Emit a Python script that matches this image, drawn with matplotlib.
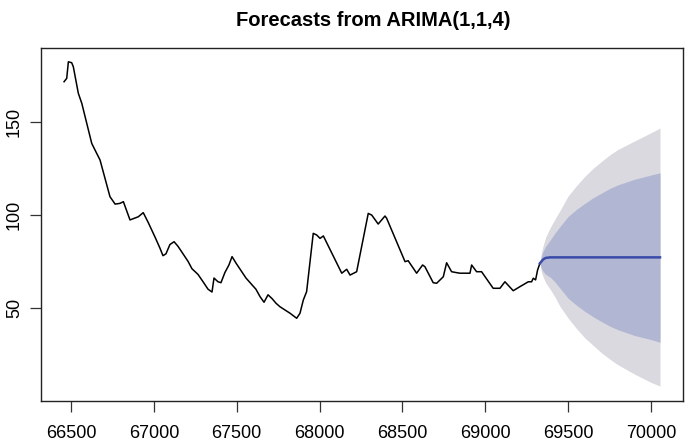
import numpy as np
import matplotlib
matplotlib.use("Agg")
import matplotlib.pyplot as plt

obs_x = [66458, 66474, 66484, 66504, 66514, 66544, 66565, 66625, 66645, 66675,
         66735, 66766, 66796, 66816, 66856, 66906, 66936, 66965, 67007, 67037,
         67055, 67073, 67097, 67122, 67146, 67176, 67206, 67230, 67266, 67297,
         67327, 67351, 67363, 67387, 67405, 67429, 67453, 67472, 67496, 67526,
         67556, 67586, 67616, 67641, 67665, 67689, 67713, 67737, 67761, 67822,
         67862, 67882, 67902, 67922, 67962, 67983, 68003, 68023, 68134, 68164,
         68184, 68224, 68294, 68315, 68354, 68395, 68405, 68516, 68535, 68586,
         68622, 68636, 68686, 68707, 68747, 68767, 68797, 68827, 68847, 68908,
         68918, 68948, 68978, 69048, 69089, 69119, 69169, 69210, 69260, 69280,
         69290, 69304, 69316, 69330]
obs_y = [171.4, 173.2, 182.1, 181.6, 179.4, 165.2, 159.8, 138.3, 134.7, 129.4,
         109.7, 105.7, 106.1, 107.0, 97.2, 98.9, 101.1, 96.0, 88.0, 82.0,
         78.0, 79.0, 84.0, 85.5, 83.0, 79.0, 75.0, 71.0, 68.0, 64.0,
         60.0, 58.5, 66.0, 64.0, 63.5, 69.0, 73.0, 77.5, 74.0, 70.0,
         66.0, 63.0, 60.0, 56.0, 53.0, 57.0, 55.0, 52.5, 50.6, 47.1,
         44.4, 47.1, 54.2, 58.7, 90.0, 89.1, 87.3, 88.6, 68.6, 70.7,
         67.6, 69.4, 100.7, 99.8, 95.0, 99.3, 98.1, 74.8, 75.3, 68.6,
         73.0, 72.1, 63.5, 63.2, 66.7, 74.2, 69.4, 68.9, 68.6, 68.6,
         73.0, 69.4, 69.4, 60.5, 60.5, 64.0, 59.2, 61.4, 64.0, 64.0,
         65.9, 65.0, 70.3, 73.9]

# forecast mean and 80% / 95% intervals
fc_x = [69330, 69340, 69350, 69365, 69392, 69420, 69450, 69500, 69550, 69600,
        69650, 69700, 69750, 69800, 69900, 70000, 70055]
fc_mean = [73.9, 75.0, 76.0, 76.8, 77.1, 77.1, 77.1, 77.1, 77.1, 77.1,
           77.1, 77.1, 77.1, 77.1, 77.1, 77.1, 77.1]
lo80 = [73.9, 71.0, 69.5, 68.0, 66.5, 64.0, 60.7, 55.2, 51.5, 48.2,
        45.3, 42.7, 40.3, 38.3, 35.2, 33.0, 31.5]
hi80 = [73.9, 78.0, 80.5, 83.0, 86.4, 90.0, 93.5, 99.0, 102.8, 106.0,
        109.0, 111.5, 114.0, 116.0, 119.0, 121.3, 122.5]
lo95 = [73.9, 69.0, 66.5, 63.5, 60.0, 56.0, 51.0, 44.5, 39.0, 34.0,
        30.0, 26.0, 22.6, 19.5, 14.5, 10.0, 8.0]
hi95 = [73.9, 80.0, 83.5, 88.0, 93.0, 97.5, 102.0, 110.0, 115.5, 120.5,
        124.8, 128.5, 132.0, 135.0, 139.5, 144.0, 146.5]

xticks = [66500, 67000, 67500, 68000, 68500, 69000, 69500, 70000]
yticks = [50, 100, 150]

plt.rcParams["font.family"] = ["Liberation Sans", "DejaVu Sans"]

fig = plt.figure(figsize=(6.85, 4.42), dpi=100)
ax = fig.add_axes([0.0599, 0.0928, 0.937, 0.7986])

ax.fill_between(fc_x, lo95, hi95, color="#D9D9DF", lw=0)
ax.fill_between(fc_x, lo80, hi80, color="#B1B6D2", lw=0)
ax.plot(obs_x, obs_y, color="black", lw=1.1)
ax.plot(fc_x, fc_mean, color="#3A4BA8", lw=1.8)

ax.set_xlim(66319, 70193)
ax.set_ylim(0, 189.5)
ax.set_xticks(xticks)
ax.set_yticks(yticks)
ax.tick_params(direction="out", length=8, width=0.9, labelsize=13, color="#333333")
ax.tick_params(axis="x", pad=9)
ax.tick_params(axis="y", pad=5)
for lab in ax.get_yticklabels():
    lab.set_rotation(90)
    lab.set_va("center")
for s in ax.spines.values():
    s.set_linewidth(1.0)
    s.set_color("#222222")

fig.suptitle("Forecasts from ARIMA(1,1,4)", fontsize=14.5, fontweight="bold",
             x=0.545, y=0.975, va="top")

fig.savefig("out.png", dpi=100)
